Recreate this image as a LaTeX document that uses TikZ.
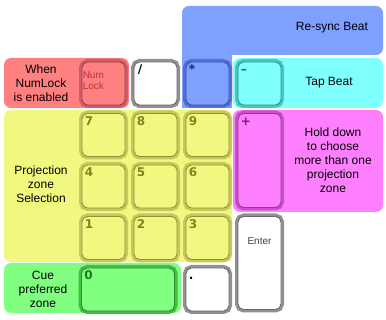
\documentclass[tikz,border=0pt]{standalone}
\usepackage{fontspec}
\setmainfont{Liberation Sans}
\newfontfamily\keyfont{DejaVu Sans}
\usepackage{tikz}
\definecolor{zonered}{RGB}{255,128,128}
\definecolor{zoneblue}{RGB}{128,160,255}
\definecolor{zonecyan}{RGB}{128,255,255}
\definecolor{zoneyellow}{RGB}{240,248,128}
\definecolor{zonemagenta}{RGB}{255,128,255}
\definecolor{zonegreen}{RGB}{128,255,128}
\definecolor{bandred}{RGB}{210,90,105}
\definecolor{bandblue}{RGB}{80,110,220}
\definecolor{bandcyan}{RGB}{70,200,190}
\definecolor{bandyellow}{RGB}{200,200,90}
\definecolor{bandmagenta}{RGB}{200,80,200}
\definecolor{bandgreen}{RGB}{70,190,70}
\definecolor{bandgray}{RGB}{145,145,145}
\definecolor{inkolive}{RGB}{130,130,30}
\definecolor{inknavy}{RGB}{20,40,110}
\definecolor{inkteal}{RGB}{30,105,105}
\definecolor{inkpurple}{RGB}{120,20,120}
\definecolor{inkgreen}{RGB}{30,120,30}
\definecolor{inkmaroon}{RGB}{190,50,60}

\begin{document}
\begin{tikzpicture}[x=1pt,y=-1pt,
    zonetext/.style={align=center,font=\fontsize{12}{14}\selectfont,inner sep=0pt},
    key/.style 2 args={rounded corners=5.5pt,minimum width=43pt,minimum height=43pt,
                inner sep=0pt,line width=0.9pt,fill=#1,draw=#2!72!black,
                preaction={draw=#2,line width=6pt}},
    keylabel/.style={anchor=north west,inner sep=0pt,xshift=3pt,yshift=-3pt,
                text height=9pt,text depth=0pt,font=\keyfont\bfseries\fontsize{12}{12}\selectfont},
    smalllabel/.style={inner sep=0pt,align=left,font=\fontsize{10}{11}\selectfont}]
  \useasboundingbox (0,0) rectangle (386,320);
  % zones
  \fill[zoneblue] (182,108) [rounded corners=7pt] -- (182,6) -- (383,6) -- (383,55)
      [sharp corners] -- (232,55) -- (232,108) -- cycle;
  \fill[zonered,rounded corners=7pt] (4,58) rectangle (129,108);
  \fill[zonecyan,rounded corners=7pt] (233,58) rectangle (383,108);
  \fill[zoneyellow,rounded corners=7pt] (4,110) rectangle (232,262);
  \fill[zonemagenta,rounded corners=7pt] (233,110) rectangle (383,212);
  \fill[zonegreen,rounded corners=7pt] (4,263) rectangle (181,313);
  \node[zonetext] (resync) at (332,28)  {Re-sync Beat};
  \node[zonetext] (tap)    at (329,83)  {Tap Beat};
  \node[zonetext] (when)   at (41,83)   {When\\NumLock\\is enabled};
  \node[zonetext] (proj)   at (41,184)  {Projection\\zone\\Selection};
  \node[zonetext] (hold)   at (333,160) {Hold down\\to choose\\more than one\\projection\\zone};
  \node[zonetext] (cue)    at (43,289)  {Cue\\preferred\\zone};
  % keys
  \node[key={zonered}{bandred},label={[smalllabel,anchor=north west,xshift=1pt,yshift=-10pt,text=inkmaroon]north west:Num\\Lock}] (numlock) at (103.5,83.5) {};
  \node[key={white}{bandgray},label={[keylabel,xshift=1pt]north west:/}] (slash) at (155.5,83.5) {};
  \node[key={zoneblue}{bandblue},label={[keylabel,text=inknavy]north west:*}] (star) at (207.5,83.5) {};
  \node[key={zonecyan}{bandcyan},label={[keylabel,text=inkteal]north west:\textendash}] (minus) at (259.5,83.5) {};
  \node[key={zoneyellow}{bandyellow},label={[keylabel,text=inkolive]north west:7}] (seven) at (103.5,135) {};
  \node[key={zoneyellow}{bandyellow},label={[keylabel,text=inkolive]north west:8}] (eight) at (155.5,135) {};
  \node[key={zoneyellow}{bandyellow},label={[keylabel,text=inkolive]north west:9}] (nine)  at (207.5,135) {};
  \node[key={zoneyellow}{bandyellow},label={[keylabel,text=inkolive]north west:4}] (four)  at (103.5,186.5) {};
  \node[key={zoneyellow}{bandyellow},label={[keylabel,text=inkolive]north west:5}] (five)  at (155.5,186.5) {};
  \node[key={zoneyellow}{bandyellow},label={[keylabel,text=inkolive]north west:6}] (six)   at (207.5,186.5) {};
  \node[key={zoneyellow}{bandyellow},label={[keylabel,text=inkolive]north west:1}] (one)   at (103.5,238) {};
  \node[key={zoneyellow}{bandyellow},label={[keylabel,text=inkolive]north west:2}] (two)   at (155.5,238) {};
  \node[key={zoneyellow}{bandyellow},label={[keylabel,text=inkolive]north west:3}] (three) at (207.5,238) {};
  \node[key={zonemagenta}{bandmagenta},minimum height=94pt,label={[keylabel,text=inkpurple]north west:+}] (plus) at (259.5,160.5) {};
  \node[key={zonegreen}{bandgreen},minimum width=93pt,label={[keylabel,text=inkgreen]north west:0}] (zero) at (128,289.5) {};
  \node[key={white}{bandgray},label={[keylabel]north west:.}] (dot) at (207.5,289.5) {};
  \node[key={white}{bandgray},minimum height=93pt,label={[smalllabel,anchor=north,yshift=-21pt,text=black!75]north:Enter}] (enter) at (259.5,263) {};
\end{tikzpicture}
\end{document}
